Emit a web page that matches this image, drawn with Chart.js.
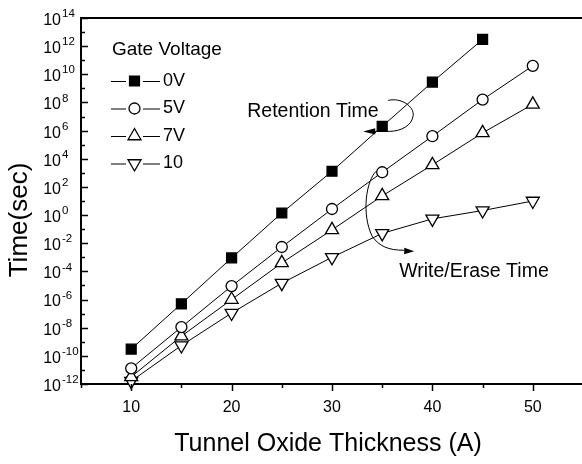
<!DOCTYPE html>
<html>
<head>
<meta charset="utf-8">
<script src="https://cdn.jsdelivr.net/npm/chart.js@4"></script>
<style>
  html, body { margin:0; padding:0; background:#fff; overflow:hidden; }
  #wrap { width:600px; height:464px; }
</style>
</head>
<body>
<div id="wrap"><canvas id="c" width="600" height="464"></canvas></div>
<script>
// DATA (time in seconds vs tunnel oxide thickness in angstrom)
const thickness = [10, 15, 20, 25, 30, 35, 40, 45, 50];
const gate0V  = [3e-10, 5e-7, 9e-4, 1.4, 1.3e3, 2e6, 2.8e9, 3e12];
const gate5V  = [1.3e-11, 1.1e-8, 9e-6, 5.4e-3, 2.7, 1.1e3, 4e5, 1.6e8, 4e10];
const gate7V  = [3.2e-12, 2.5e-9, 1e-6, 4e-4, 0.089, 23, 3.7e3, 6.9e5, 7.4e7];
const gate10V = [1.6e-12, 5.4e-10, 1.1e-7, 1.45e-5, 1e-3, 0.05, 0.54, 2.1, 10];
const seriesNames = ['0V', '5V', '7V', '10'];
const xTickLabels = [10, 20, 30, 40, 50];
const yTickExponents = [-12, -10, -8, -6, -4, -2, 0, 2, 4, 6, 8, 10, 12, 14];

const FONT = '"Liberation Sans", Arial, Helvetica, sans-serif';
Chart.defaults.font.family = FONT;

function pts(vals) {
  return vals.map((v, i) => ({ x: thickness[i], y: v }));
}

function makeSet(label, vals, style, fill, rot, r) {
  return {
    label: label,
    data: pts(vals),
    borderColor: '#000',
    borderWidth: 1,
    tension: 0,
    pointStyle: style,
    pointRotation: rot,
    pointRadius: r,
    pointBackgroundColor: fill,
    pointBorderColor: '#000',
    pointBorderWidth: 1.3,
    clip: false
  };
}

function arrowHead(ctx, fx, fy, tx, ty, len, hw) {
  const a = Math.atan2(ty - fy, tx - fx);
  ctx.beginPath();
  ctx.moveTo(tx, ty);
  ctx.lineTo(tx - len * Math.cos(a) + hw * Math.sin(a), ty - len * Math.sin(a) - hw * Math.cos(a));
  ctx.lineTo(tx - len * Math.cos(a) - hw * Math.sin(a), ty - len * Math.sin(a) + hw * Math.cos(a));
  ctx.closePath();
  ctx.fill();
}

// frame, ticks, labels, legend and notes in the Origin style
const decor = {
  id: 'decor',
  afterDraw(chart) {
    const { ctx, chartArea: a, scales: { x, y } } = chart;
    ctx.save();
    ctx.strokeStyle = '#000';
    ctx.fillStyle = '#000';

    // top and right frame
    ctx.lineWidth = 2;
    ctx.beginPath();
    ctx.moveTo(a.left - 1, a.top);
    ctx.lineTo(a.right, a.top);
    ctx.lineTo(a.right, a.bottom);
    ctx.stroke();

    // x ticks (outside), y ticks (inside)
    ctx.lineWidth = 1.5;
    ctx.beginPath();
    for (let v = 5; v <= 55; v += 5) {
      const px = Math.round(x.getPixelForValue(v)) + 0.5;
      ctx.moveTo(px, a.bottom);
      ctx.lineTo(px, a.bottom + (v % 10 === 0 ? 7 : 4));
    }
    for (let e = -12; e <= 14; e++) {
      const py = Math.round(y.getPixelForValue(Math.pow(10, e))) + 0.5;
      ctx.moveTo(a.left, py);
      ctx.lineTo(a.left + (e % 2 === 0 ? 7 : 4), py);
    }
    ctx.stroke();

    // tick labels
    ctx.textBaseline = 'middle';
    ctx.textAlign = 'center';
    ctx.font = '16px ' + FONT;
    xTickLabels.forEach(v => ctx.fillText(String(v), x.getPixelForValue(v), 408));
    yTickExponents.forEach(e => {
      const py = y.getPixelForValue(Math.pow(10, e));
      ctx.font = '16px ' + FONT;
      ctx.textAlign = 'right';
      ctx.fillText('10', 61, py + 2.5);
      ctx.font = '11.5px ' + FONT;
      ctx.textAlign = 'left';
      ctx.fillText(String(e), 62, py - 4);
    });

    // axis titles
    ctx.textAlign = 'center';
    ctx.font = '25px ' + FONT;
    ctx.fillText('Tunnel Oxide Thickness (A)', 328, 444);
    ctx.save();
    ctx.translate(20, 220);
    ctx.rotate(-Math.PI / 2);
    ctx.font = '26px ' + FONT;
    ctx.fillText('Time(sec)', 0, 0);
    ctx.restore();

    // legend
    ctx.textAlign = 'left';
    ctx.font = '19px ' + FONT;
    ctx.fillText('Gate Voltage', 112, 50);
    ctx.font = '18px ' + FONT;
    chart.data.datasets.forEach((ds, i) => {
      const ly = 81 + i * 27.5;
      ctx.lineWidth = 1;
      ctx.strokeStyle = '#000';
      ctx.beginPath();
      ctx.moveTo(111, ly + 0.5);
      ctx.lineTo(126, ly + 0.5);
      ctx.moveTo(143, ly + 0.5);
      ctx.lineTo(160, ly + 0.5);
      ctx.stroke();
      ctx.fillStyle = ds.pointBackgroundColor;
      ctx.strokeStyle = '#000';
      ctx.lineWidth = ds.pointBorderWidth;
      Chart.helpers.drawPoint(ctx, {
        pointStyle: ds.pointStyle, rotation: ds.pointRotation,
        radius: ds.pointRadius, borderWidth: ds.pointBorderWidth
      }, 134.5, ly);
      ctx.fillStyle = '#000';
      ctx.fillText(ds.label, 163, ly);
    });

    // notes with curved arrows, anchored on data points
    ctx.lineWidth = 1;
    ctx.strokeStyle = '#000';
    ctx.fillStyle = '#000';
    ctx.font = '19.5px ' + FONT;

    const r = chart.getDatasetMeta(0).data[5];
    const rx = r.x, ry = r.y;
    ctx.beginPath();
    ctx.moveTo(rx + 6, ry - 26);
    ctx.bezierCurveTo(rx + 19, ry - 29, rx + 32, ry - 20, rx + 31, ry - 11);
    ctx.bezierCurveTo(rx + 30, ry - 1, rx + 19, ry + 5, rx + 7, ry + 5);
    ctx.lineTo(rx - 8, ry + 5);
    ctx.stroke();
    arrowHead(ctx, rx + 7, ry + 5, rx - 19, ry + 5, 12, 3.2);
    ctx.fillText('Retention Time', rx - 135, ry - 15);

    const w = chart.getDatasetMeta(1).data[5];
    const wx = w.x, wy = w.y;
    ctx.beginPath();
    ctx.moveTo(wx - 6, wy - 1);
    ctx.bezierCurveTo(wx - 16, wy + 8, wx - 21, wy + 42, wx - 10, wy + 64);
    ctx.bezierCurveTo(wx - 3, wy + 74, wx + 6, wy + 78, wx + 22, wy + 78);
    ctx.stroke();
    arrowHead(ctx, wx + 12, wy + 78.5, wx + 32, wy + 79, 10, 3.2);
    ctx.fillText('Write/Erase Time', wx + 17, wy + 99);

    ctx.restore();
  }
};

new Chart(document.getElementById('c'), {
  type: 'line',
  data: {
    datasets: [
      makeSet(seriesNames[0], gate0V, 'rect', '#000', 0, 7),
      makeSet(seriesNames[1], gate5V, 'circle', '#fff', 0, 5.5),
      makeSet(seriesNames[2], gate7V, 'triangle', '#fff', 0, 7.5),
      makeSet(seriesNames[3], gate10V, 'triangle', '#fff', 180, 7.5)
    ]
  },
  options: {
    responsive: false,
    animation: false,
    layout: { padding: { top: 18, right: 17, left: 0, bottom: 0 } },
    plugins: { legend: { display: false }, tooltip: { enabled: false } },
    scales: {
      x: {
        type: 'linear', min: 5, max: 55,
        grid: { display: false },
        ticks: { display: false },
        border: { display: true, color: '#000', width: 2 },
        afterFit(s) { s.height = 80; }
      },
      y: {
        type: 'logarithmic', min: 1e-12, max: 1e14,
        grid: { display: false },
        ticks: { display: false },
        border: { display: true, color: '#000', width: 2 },
        afterFit(s) { s.width = 81; }
      }
    }
  },
  plugins: [decor]
});
</script>
</body>
</html>
